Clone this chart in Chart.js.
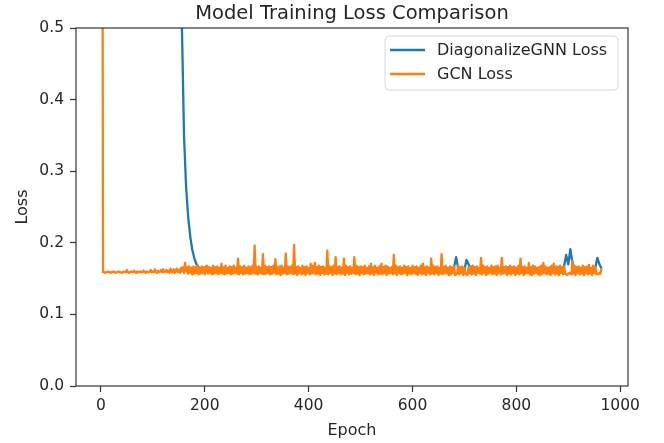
<!DOCTYPE html>
<html>
<head>
<meta charset="utf-8">
<script src="https://cdn.jsdelivr.net/npm/chart.js@4.4.1/dist/chart.umd.min.js"></script>
<style>
  html, body { margin: 0; padding: 0; background: #fff; }
  #wrap { width: 664px; height: 443px; }
</style>
</head>
<body>
<div id="wrap"><canvas id="lossChart" width="664" height="443"></canvas></div>
<script>
var diagStep = 4;
var gcnStep = 2;
var seriesNames = ["DiagonalizeGNN Loss", "GCN Loss"];
var xTicks = [0, 200, 400, 600, 800, 1000];
var yTicks = [0.0, 0.1, 0.2, 0.3, 0.4, 0.5];

var diagLoss = [
  3.35, 3.21, 3.08, 2.97, 2.88, 2.80, 2.74, 2.69, 2.65, 2.61,
  2.58, 2.55, 2.52, 2.50, 2.47, 2.45, 2.43, 2.40, 2.38, 2.35,
  2.32, 2.29, 2.26, 2.23, 2.19, 2.15, 2.10, 2.05, 1.99, 1.92,
  1.84, 1.74, 1.63, 1.50, 1.36, 1.19, 1.02, 0.86, 0.70,
  0.50, 0.35, 0.278, 0.236, 0.209, 0.190, 0.178, 0.170, 0.166, 0.164,
  0.163, 0.165, 0.161, 0.164, 0.162, 0.166, 0.160, 0.164, 0.162, 0.165,
  0.161, 0.164, 0.160, 0.165, 0.162, 0.163, 0.161, 0.166, 0.160, 0.164,
  0.162, 0.165, 0.161, 0.163, 0.160, 0.166, 0.162, 0.164, 0.161, 0.165,
  0.160, 0.164, 0.162, 0.166, 0.161, 0.163, 0.160, 0.165, 0.162, 0.164,
  0.161, 0.166, 0.160, 0.164, 0.162, 0.165, 0.161, 0.163, 0.160, 0.166,
  0.162, 0.164, 0.161, 0.165, 0.160, 0.164, 0.162, 0.166, 0.161, 0.163,
  0.160, 0.165, 0.162, 0.164, 0.161, 0.166, 0.160, 0.164, 0.162, 0.165,
  0.161, 0.163, 0.160, 0.166, 0.162, 0.164, 0.161, 0.165, 0.160, 0.164,
  0.162, 0.166, 0.161, 0.163, 0.160, 0.165, 0.162, 0.164, 0.161, 0.166,
  0.160, 0.164, 0.162, 0.165, 0.161, 0.163, 0.160, 0.166, 0.162, 0.164,
  0.161, 0.165, 0.160, 0.164, 0.162, 0.166, 0.161, 0.163, 0.160, 0.165,
  0.162, 0.164, 0.161, 0.166, 0.160, 0.164, 0.162, 0.165, 0.161, 0.163,
  0.160, 0.166, 0.180, 0.164, 0.161, 0.165, 0.162, 0.176, 0.170, 0.164,
  0.161, 0.166, 0.160, 0.164, 0.162, 0.165, 0.161, 0.163, 0.160, 0.166,
  0.162, 0.164, 0.161, 0.165, 0.160, 0.164, 0.162, 0.166, 0.161, 0.163,
  0.160, 0.165, 0.162, 0.164, 0.161, 0.166, 0.160, 0.164, 0.162, 0.165,
  0.161, 0.163, 0.160, 0.166, 0.162, 0.164, 0.161, 0.165, 0.160, 0.164,
  0.162, 0.166, 0.161, 0.163, 0.168, 0.183, 0.170, 0.191, 0.172, 0.164,
  0.161, 0.165, 0.162, 0.164, 0.160, 0.166, 0.161, 0.163, 0.162, 0.165,
  0.179, 0.170, 0.164
];

var gcnLoss = [
  1.85, 1.20, 0.159, 0.159, 0.158, 0.159, 0.159, 0.160, 0.159, 0.158,
  0.159, 0.159, 0.160, 0.159, 0.158, 0.159, 0.159, 0.160, 0.159, 0.159,
  0.158, 0.159, 0.160, 0.159, 0.159, 0.162, 0.159, 0.158, 0.159, 0.160,
  0.159, 0.159, 0.161, 0.159, 0.158, 0.160, 0.159, 0.159, 0.160, 0.159,
  0.159, 0.161, 0.159, 0.158, 0.160, 0.159, 0.159, 0.160, 0.162, 0.159,
  0.160, 0.159, 0.163, 0.159, 0.158, 0.161, 0.159, 0.160, 0.162, 0.159,
  0.163, 0.159, 0.160, 0.162, 0.159, 0.161, 0.158, 0.164, 0.160, 0.159,
  0.163, 0.158, 0.161, 0.164, 0.159, 0.162, 0.158, 0.165, 0.160, 0.166,
  0.158, 0.172, 0.160, 0.166, 0.157, 0.167, 0.158, 0.165, 0.156, 0.167,
  0.157, 0.166, 0.158, 0.168, 0.156, 0.165, 0.157, 0.167, 0.158, 0.166,
  0.156, 0.167, 0.168, 0.157, 0.166, 0.158, 0.165, 0.156, 0.168, 0.157,
  0.166, 0.158, 0.167, 0.156, 0.165, 0.158, 0.171, 0.157, 0.166, 0.156,
  0.168, 0.157, 0.165, 0.158, 0.167, 0.156, 0.166, 0.157, 0.168, 0.158,
  0.165, 0.157, 0.178, 0.156, 0.167, 0.158, 0.166, 0.156, 0.168, 0.157,
  0.165, 0.158, 0.167, 0.156, 0.166, 0.157, 0.168, 0.158, 0.196, 0.157,
  0.166, 0.156, 0.167, 0.158, 0.165, 0.157, 0.184, 0.156, 0.168, 0.157,
  0.166, 0.158, 0.167, 0.156, 0.165, 0.157, 0.168, 0.158, 0.177, 0.156,
  0.166, 0.157, 0.167, 0.155, 0.168, 0.157, 0.165, 0.158, 0.185, 0.156,
  0.167, 0.157, 0.166, 0.158, 0.168, 0.156, 0.197, 0.157, 0.166, 0.155,
  0.167, 0.158, 0.165, 0.156, 0.168, 0.157, 0.166, 0.155, 0.167, 0.158,
  0.165, 0.156, 0.171, 0.157, 0.168, 0.158, 0.172, 0.156, 0.166, 0.157,
  0.168, 0.155, 0.166, 0.158, 0.167, 0.156, 0.165, 0.157, 0.189, 0.156,
  0.167, 0.158, 0.166, 0.155, 0.168, 0.157, 0.180, 0.156, 0.166, 0.158,
  0.167, 0.156, 0.165, 0.157, 0.178, 0.155, 0.168, 0.158, 0.166, 0.156,
  0.167, 0.157, 0.165, 0.158, 0.180, 0.156, 0.168, 0.157, 0.166, 0.155,
  0.167, 0.158, 0.166, 0.156, 0.168, 0.157, 0.165, 0.158, 0.167, 0.156,
  0.171, 0.157, 0.166, 0.155, 0.168, 0.158, 0.165, 0.156, 0.167, 0.157,
  0.171, 0.156, 0.166, 0.158, 0.168, 0.155, 0.167, 0.157, 0.165, 0.158,
  0.166, 0.156, 0.183, 0.157, 0.168, 0.155, 0.166, 0.158, 0.167, 0.156,
  0.165, 0.157, 0.168, 0.158, 0.166, 0.155, 0.167, 0.157, 0.165, 0.156,
  0.168, 0.158, 0.166, 0.157, 0.167, 0.155, 0.165, 0.158, 0.168, 0.156,
  0.171, 0.157, 0.166, 0.155, 0.167, 0.158, 0.165, 0.156, 0.178, 0.157,
  0.168, 0.156, 0.166, 0.158, 0.167, 0.155, 0.165, 0.157, 0.184, 0.156,
  0.166, 0.158, 0.168, 0.157, 0.165, 0.155, 0.167, 0.156, 0.166, 0.158,
  0.167, 0.155, 0.156, 0.157, 0.168, 0.156, 0.166, 0.158, 0.167, 0.155,
  0.165, 0.157, 0.156, 0.155, 0.166, 0.158, 0.167, 0.156, 0.168, 0.157,
  0.166, 0.155, 0.167, 0.158, 0.165, 0.157, 0.179, 0.156, 0.168, 0.158,
  0.166, 0.155, 0.167, 0.157, 0.165, 0.158, 0.168, 0.156, 0.166, 0.157,
  0.167, 0.155, 0.168, 0.158, 0.165, 0.156, 0.179, 0.157, 0.166, 0.158,
  0.167, 0.155, 0.165, 0.157, 0.168, 0.156, 0.166, 0.158, 0.167, 0.155,
  0.165, 0.157, 0.168, 0.156, 0.178, 0.158, 0.166, 0.155, 0.167, 0.157,
  0.165, 0.158, 0.172, 0.156, 0.166, 0.155, 0.168, 0.157, 0.167, 0.158,
  0.165, 0.156, 0.166, 0.155, 0.168, 0.157, 0.172, 0.158, 0.167, 0.156,
  0.165, 0.157, 0.166, 0.155, 0.168, 0.158, 0.171, 0.156, 0.167, 0.157,
  0.165, 0.155, 0.168, 0.158, 0.166, 0.156, 0.167, 0.157, 0.156, 0.155,
  0.156, 0.158, 0.157, 0.156, 0.175, 0.157, 0.168, 0.155, 0.166, 0.158,
  0.167, 0.156, 0.165, 0.157, 0.168, 0.155, 0.166, 0.158, 0.167, 0.156,
  0.169, 0.157, 0.165, 0.155, 0.168, 0.158, 0.166, 0.156, 0.157, 0.156,
  0.158, 0.157, 0.164
];

var blue = "#1f77b4";
var orange = "#ff7f0e";
var ink = "#262626";
var fontFam = "'DejaVu Sans', sans-serif";

function toPoints(values, step) {
  return values.map(function(v, i) { return {x: i * step, y: v}; });
}

// title, frame and the boxed legend, matplotlib style
var decorPlugin = {
  id: "decor",
  afterDatasetsDraw: function(chart) {
    var ctx = chart.ctx;
    var a = chart.chartArea;
    ctx.save();
    ctx.strokeStyle = "#333";
    ctx.lineWidth = 1.2;
    ctx.strokeRect(a.left, a.top, a.right - a.left, a.bottom - a.top);

    ctx.fillStyle = ink;
    ctx.font = "19.5px " + fontFam;
    ctx.textAlign = "center";
    ctx.textBaseline = "alphabetic";
    ctx.fillText("Model Training Loss Comparison", (a.left + a.right) / 2, 19);

    // legend box
    var bx = 385, by = 36, bw = 233, bh = 54, r = 4;
    ctx.beginPath();
    ctx.moveTo(bx + r, by);
    ctx.arcTo(bx + bw, by, bx + bw, by + bh, r);
    ctx.arcTo(bx + bw, by + bh, bx, by + bh, r);
    ctx.arcTo(bx, by + bh, bx, by, r);
    ctx.arcTo(bx, by, bx + bw, by, r);
    ctx.closePath();
    ctx.fillStyle = "rgba(255,255,255,0.8)";
    ctx.fill();
    ctx.strokeStyle = "#d6d6d6";
    ctx.lineWidth = 1;
    ctx.stroke();

    var colors = [blue, orange];
    ctx.font = "16px " + fontFam;
    ctx.textAlign = "left";
    ctx.textBaseline = "middle";
    for (var i = 0; i < seriesNames.length; i++) {
      var y = 50 + i * 24;
      ctx.strokeStyle = colors[i];
      ctx.lineWidth = 2.4;
      ctx.beginPath();
      ctx.moveTo(390, y);
      ctx.lineTo(425, y);
      ctx.stroke();
      ctx.fillStyle = ink;
      ctx.fillText(seriesNames[i], 437, y + 1);
    }
    ctx.restore();
  }
};

var chart = new Chart(document.getElementById("lossChart"), {
  type: "line",
  data: {
    datasets: [
      {
        label: seriesNames[0],
        data: toPoints(diagLoss, diagStep),
        borderColor: blue,
        borderWidth: 2.3,
        borderJoinStyle: "round",
        pointRadius: 0,
        tension: 0,
        clip: 0,
        order: 1
      },
      {
        label: seriesNames[1],
        data: toPoints(gcnLoss, gcnStep),
        borderColor: orange,
        borderWidth: 2.3,
        borderJoinStyle: "round",
        pointRadius: 0,
        tension: 0,
        clip: 0,
        order: 0
      }
    ]
  },
  options: {
    responsive: false,
    animation: false,
    devicePixelRatio: 1,
    layout: { padding: { top: 28, right: 36, left: 0, bottom: 0 } },
    plugins: {
      legend: { display: false },
      tooltip: { enabled: false },
      title: { display: false }
    },
    scales: {
      x: {
        type: "linear",
        min: -48,
        max: 1015,
        afterFit: function(s) { s.height = 57; },
        afterBuildTicks: function(s) { s.ticks = xTicks.map(function(v) { return {value: v}; }); },
        ticks: {
          includeBounds: false,
          color: ink,
          padding: 5,
          maxRotation: 0,
          font: { family: fontFam, size: 15.5 },
          callback: function(v) { return String(v); }
        },
        grid: { drawOnChartArea: false, drawTicks: true, tickLength: 6, tickColor: "#333", tickWidth: 1.2 },
        border: { display: false },
        title: { display: true, text: "Epoch", color: ink, font: { family: fontFam, size: 16 }, padding: { top: 0, bottom: 3 } }
      },
      y: {
        min: 0,
        max: 0.5,
        afterFit: function(s) { s.width = 76; },
        afterBuildTicks: function(s) { s.ticks = yTicks.map(function(v) { return {value: v}; }); },
        ticks: {
          color: ink,
          padding: 6,
          font: { family: fontFam, size: 15.5 },
          callback: function(v) { return v.toFixed(1); }
        },
        grid: { drawOnChartArea: false, drawTicks: true, tickLength: 6, tickColor: "#333", tickWidth: 1.2 },
        border: { display: false },
        title: { display: true, text: "Loss", color: ink, font: { family: fontFam, size: 16 }, padding: { top: 13, bottom: 0 } }
      }
    }
  },
  plugins: [decorPlugin]
});
</script>
</body>
</html>
